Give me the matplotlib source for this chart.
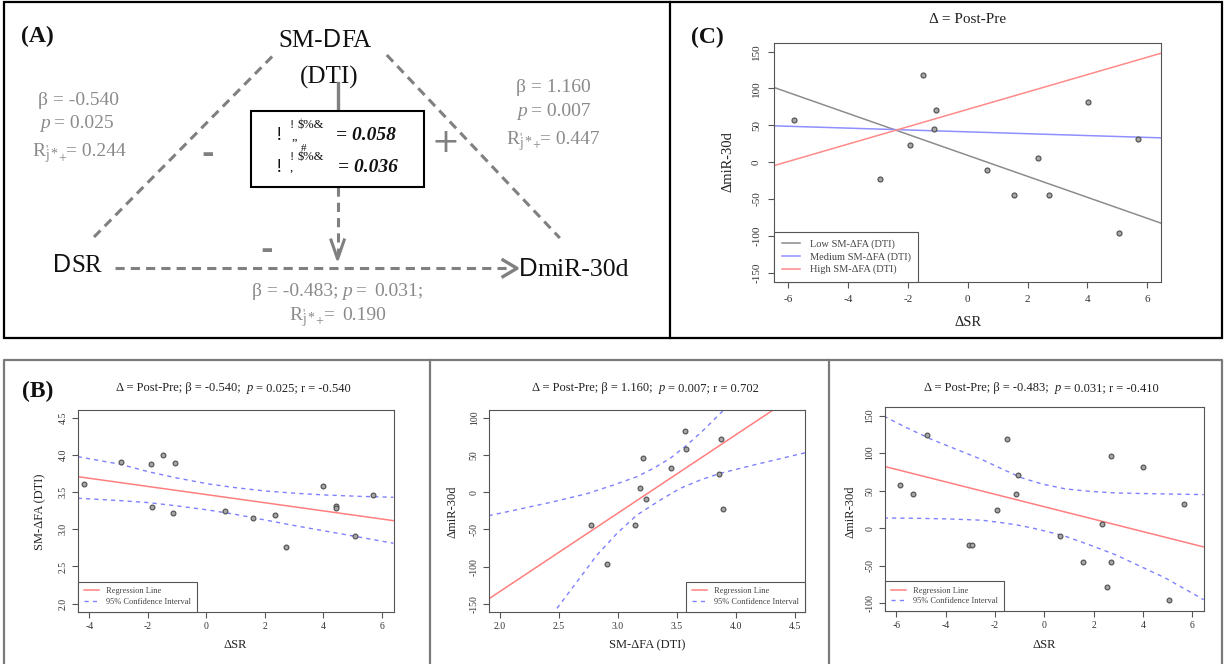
import matplotlib
matplotlib.use("Agg")
import matplotlib.pyplot as plt
from matplotlib.lines import Line2D
from matplotlib.patches import Rectangle

plt.rcParams['font.family'] = ['Liberation Serif', 'DejaVu Serif']

# ---- data ----
# (C) moderation plot: dSR vs dmiR-30d, simple slopes at three SM-dFA levels
c_x = [-5.82, -2.92, -1.49, -1.92, -1.07, -1.13, 0.64, 1.56, 2.35, 2.71, 4.01, 5.07, 5.69]
c_y = [56.9, -22.6, 118.4, 23.5, 70.5, 45.2, -10.4, -44.3, 5.4, -44.3, 81.3, -95.8, 32.1]
c_levels = ["Low SM-ΔFA (DTI)", "Medium SM-ΔFA (DTI)", "High SM-ΔFA (DTI)"]
c_intercepts = [9.25, 41.15, 71.65]
c_slopes = [-14.21, -1.26, 11.77]

# (B1) dSR vs SM-dFA
b1_x = [-4.19, -2.92, -1.91, -1.49, -1.06, -1.85, -1.13, 0.65, 1.58, 2.36, 2.72, 4.00, 4.43, 4.43, 5.08, 5.69]
b1_y = [3.604, 3.909, 3.873, 3.998, 3.886, 3.299, 3.219, 3.241, 3.151, 3.192, 2.766, 3.582, 3.306, 3.292, 2.909, 3.456]
b1_fit = (3.466, -0.0548)
b1_ci_x = [-4.40, -2.95, -1.985, -1.07, 0.065, 0.977, 2.0, 3.03, 4.05, 5.19, 6.39]
b1_ci_up = [3.976, 3.874, 3.774, 3.694, 3.609, 3.560, 3.515, 3.484, 3.461, 3.443, 3.430]
b1_ci_lo = [3.417, 3.385, 3.358, 3.317, 3.259, 3.201, 3.125, 3.048, 2.977, 2.897, 2.812]

# (B2) SM-dFA vs dmiR-30d
b2_x = [2.768, 2.904, 3.144, 3.186, 3.209, 3.234, 3.452, 3.571, 3.579, 3.853, 3.870, 3.893]
b2_y = [-44.0, -95.9, -44.0, 5.8, 45.8, -9.5, 32.2, 81.8, 57.5, 23.8, 71.0, -22.1]
b2_fit = (-343.6, 105.2)
b2_up_x = [1.904, 2.172, 2.455, 2.737, 2.963, 3.161, 3.302, 3.443, 3.585, 3.726, 3.896]
b2_up_y = [-31.5, -22.5, -12.7, -2.0, 9.7, 20.8, 32.1, 45.5, 63.3, 83.5, 110.3]
b2_lo_x = [2.483, 2.653, 2.822, 2.992, 3.161, 3.359, 3.528, 3.698, 3.867, 4.150, 4.587]
b2_lo_y = [-155.8, -120.1, -84.3, -55.2, -30.6, -10.5, 5.2, 16.4, 25.4, 36.5, 53.0]

# (B3) dSR vs dmiR-30d
b3_x = [-5.84, -5.34, -4.76, -3.06, -2.92, -1.91, -1.50, -1.08, -1.13, 0.64, 1.58, 2.35, 2.72, 2.72, 2.56, 4.00, 5.05, 5.69]
b3_y = [57.6, 45.6, 124.6, -22.3, -22.3, 23.9, 119.3, 71.0, 45.6, -9.9, -44.5, 5.7, 96.2, -44.5, -78.7, 82.1, -95.9, 32.3]
b3_fit = (28.7, -8.28)
b3_up_x = [-6.51, -5.57, -4.55, -3.54, -2.52, -1.71, -0.90, -0.09, 0.86, 1.81, 2.89, 4.24, 6.47]
b3_up_y = [149.3, 133.7, 118.1, 104.8, 91.4, 79.0, 67.0, 59.0, 52.4, 49.3, 47.0, 46.1, 44.8]
b3_lo_x = [-6.51, -5.23, -3.88, -2.52, -1.85, -1.17, -0.49, 0.18, 0.86, 1.81, 2.89, 3.90, 4.91, 6.47]
b3_lo_y = [13.7, 13.3, 12.4, 10.7, 8.0, 4.8, 0.4, -4.9, -10.7, -21.8, -35.2, -50.7, -66.2, -95.1]

b_titles = [["Δ = Post-Pre; β = -0.540;", 6, ("p", {"style": "italic"}), 3, "= 0.025; r = -0.540"],
            ["Δ = Post-Pre; β = 1.160;", 6, ("p", {"style": "italic"}), 3, "= 0.007; r = 0.702"],
            ["Δ = Post-Pre; β = -0.483;", 6, ("p", {"style": "italic"}), 3, "= 0.031; r = -0.410"]]

# colours
RED = '#ff7f7f'
BLUE = '#8080ff'
C_COLS = ['#8c8c8c', '#8f8fff', '#ff8a8a']
PT_FACE = '#a6a6a6'
PT_EDGE = '#4d4d4d'
GRAY_TXT = '#8a8a8a'
GRAY_LN = '#808080'

W, H = 1225, 664
fig = plt.figure(figsize=(W / 100, H / 100), dpi=100)
ov = fig.add_axes([0, 0, 1, 1])
ov.set_xlim(0, W)
ov.set_ylim(H, 0)
ov.axis('off')
renderer = fig.canvas.get_renderer()


def put_parts(x, y, parts, ha='left', color='#111111', size=12, **common):
    items = []
    for p in parts:
        if isinstance(p, (int, float)):
            items.append(p)
            continue
        txt, kw = p if isinstance(p, tuple) else (p, {})
        kw = dict(common, **kw)
        dy = kw.pop('dy', 0)
        t = ov.text(0, y + dy, txt, ha='left', va='baseline',
                    color=kw.pop('color', color), fontsize=kw.pop('size', size), **kw)
        items.append(t)
    widths = [it if isinstance(it, (int, float)) else it.get_window_extent(renderer).width
              for it in items]
    x0 = x - sum(widths) / 2 if ha == 'center' else x
    for it, w in zip(items, widths):
        if not isinstance(it, (int, float)):
            it.set_x(x0)
        x0 += w


def px_axes(l, t, r, b):
    return fig.add_axes([l / W, 1 - b / H, (r - l) / W, (b - t) / H])


def style_axes(ax, xlim, ylim, xticks, yticks, xfmt, yfmt, size, tlen, pad):
    ax.set_xlim(xlim)
    ax.set_ylim(ylim)
    ax.set_xticks(xticks)
    ax.set_xticklabels([xfmt.format(v) for v in xticks])
    ax.set_yticks(yticks)
    ax.set_yticklabels([yfmt.format(v) for v in yticks], rotation=90, va='center')
    for s in ax.spines.values():
        s.set_color('#555555')
        s.set_linewidth(0.8)
    ax.tick_params(direction='out', length=tlen, width=0.8, colors='#555555',
                   labelcolor='#333333', labelsize=size, pad=pad)


def add_legend(ax, handles, labels, loc, size):
    leg = ax.legend(handles, labels, loc=loc, fontsize=size, frameon=True, fancybox=False,
                    edgecolor='#555555', framealpha=1, borderaxespad=0, handlelength=1.8,
                    handletextpad=0.9, borderpad=0.7, labelspacing=0.3)
    leg.get_frame().set_linewidth(0.8)
    for t in leg.get_texts():
        t.set_color('#444444')


# ---- frames ----
ov.add_patch(Rectangle((4, 2), 1218, 336, fill=False, ec='black', lw=1.6))
ov.plot([670, 670], [2, 338], color='black', lw=1.6)
ov.plot([4, 4, 1222, 1222], [664, 360, 360, 664], color='#7a7a7a', lw=1.6)
ov.plot([430, 430], [360, 664], color='#7a7a7a', lw=1.6)
ov.plot([829, 829], [360, 664], color='#7a7a7a', lw=1.6)

# ---- panel A: path diagram ----
dash = (0, (3, 2))
ov.plot([94, 275.6], [237, 53], color=GRAY_LN, lw=2.2, ls=dash)
ov.plot([386.8, 559.8], [55, 238], color=GRAY_LN, lw=2.2, ls=dash)
ov.plot([115.4, 508], [268.3, 268.3], color=GRAY_LN, lw=2.2, ls=dash)
ov.plot([503, 517, 503], [260, 268.3, 276.6], color=GRAY_LN, lw=2.4)
ov.plot([337.6, 337.6], [83, 111], color=GRAY_LN, lw=2.4)
ov.plot([337.6, 337.6], [187, 256], color=GRAY_LN, lw=2.2, ls=dash)
ov.plot([331, 337.6, 344.2], [240, 259, 240], color=GRAY_LN, lw=2.2)
ov.add_patch(Rectangle((251, 111), 173, 76, fc='white', ec='black', lw=1.5, zorder=3))

sans = {'family': ['Liberation Sans', 'DejaVu Sans']}
put_parts(21.4, 41.7, ["(A)"], size=17, weight='bold')
put_parts(325, 46.7, ["SM-", ("D", sans), "FA"], ha='center', size=18)
put_parts(329.5, 84, ["(DTI)"], ha='center', size=18)
put_parts(53.4, 272, [("D", sans), "SR"], size=18)
put_parts(519, 276, [("D", sans), "miR-30d"], size=18.5)

rsub = [("'", {'size': 9, 'dy': -3}), -2, ("j", {'size': 10, 'dy': 3}), 1,
        ("*", {'size': 10, 'dy': 2}), 1, ("+", {'size': 10, 'dy': 6})]
put_parts(79, 105, ["β = -0.540"], ha='center', size=14, color=GRAY_TXT)
put_parts(77, 128.5, [("p", {'style': 'italic'}), 3.5, "= 0.025"], ha='center', size=14, color=GRAY_TXT)
put_parts(79, 156, ["R"] + rsub + ["= 0.244"], ha='center', size=14, color=GRAY_TXT)
put_parts(553, 92.5, ["β = 1.160"], ha='center', size=14, color=GRAY_TXT)
put_parts(554, 116.5, [("p", {'style': 'italic'}), 3.5, "= 0.007"], ha='center', size=14, color=GRAY_TXT)
put_parts(553, 143.5, ["R"] + rsub + ["= 0.447"], ha='center', size=14, color=GRAY_TXT)
put_parts(337.6, 295.5, ["β = -0.483;", 4, ("p", {'style': 'italic'}), 3.5, "=", 8, "0.031;"],
          ha='center', size=14, color=GRAY_TXT)
put_parts(337.6, 319.5, ["R"] + rsub + ["=", 8, "0.190"], ha='center', size=14, color=GRAY_TXT)

sign_kw = dict(ha='center', va='center', color=GRAY_LN, family=['DejaVu Sans'])
ov.text(208, 155, "-", fontsize=22, weight='bold', **sign_kw)
ov.text(267, 251, "-", fontsize=22, weight='bold', **sign_kw)
ov.text(445, 142, "+", fontsize=24, **sign_kw)

box_kw = dict(va='baseline', ha='left', color='#111111', zorder=4)
ov.text(276, 140, "!", fontsize=14, **box_kw)
ov.text(289.5, 128, "!", fontsize=9, **box_kw)
ov.text(298, 128, "$%&", fontsize=9, **box_kw)
ov.text(291, 140, "„", fontsize=9, **box_kw)
ov.text(335.5, 140, "= 0.058", fontsize=14, weight='bold', style='italic', **box_kw)
ov.text(276, 172, "!", fontsize=14, **box_kw)
ov.text(289.5, 160, "!", fontsize=9, **box_kw)
ov.text(301, 151, "#", fontsize=8, **box_kw)
ov.text(298, 160, "$%&", fontsize=9, **box_kw)
ov.text(290, 171, ",", fontsize=9, **box_kw)
ov.text(337.6, 172, "= 0.036", fontsize=14, weight='bold', style='italic', **box_kw)

# ---- panel C ----
axc = px_axes(774.3, 42.7, 1161.2, 281.7)
style_axes(axc, (-6.47, 6.47), (-162, 162), [-6, -4, -2, 0, 2, 4, 6],
           [-150, -100, -50, 0, 50, 100, 150], '{:g}', '{:g}', 8, 4.5, 5)
axc.scatter(c_x, c_y, s=13, fc=PT_FACE, ec=PT_EDGE, lw=0.8, zorder=3)
c_handles = []
for b0, m, col in zip(c_intercepts, c_slopes, C_COLS):
    axc.axline((0, b0), slope=m, color=col, lw=1.1)
    c_handles.append(Line2D([], [], color=col, lw=1.1))
add_legend(axc, c_handles, c_levels, 'lower left', 7.5)
put_parts(707, 42.7, ["(C)"], ha='center', size=17, weight='bold')
put_parts(967.6, 23, ["Δ = Post-Pre"], ha='center', size=11, color='#222222')
ov.text(967.6, 322.7, "ΔSR", ha='center', va='center', fontsize=10.5, color='#222222')
ov.text(728.4, 162, "ΔmiR-30d", ha='center', va='center', rotation=90, fontsize=10.5, color='#222222')

# ---- panel B ----
reg_h = [Line2D([], [], color=RED, lw=1.1), Line2D([], [], color=BLUE, lw=1, ls=(0, (3, 3)))]
reg_l = ["Regression Line", "95% Confidence Interval"]

ax1 = px_axes(77.7, 410, 393.7, 611.7)
style_axes(ax1, (-4.40, 6.40), (1.892, 4.603), [-4, -2, 0, 2, 4, 6],
           [2.0, 2.5, 3.0, 3.5, 4.0, 4.5], '{:g}', '{:.1f}', 7, 4, 3.5)
ax1.scatter(b1_x, b1_y, s=12, fc=PT_FACE, ec=PT_EDGE, lw=0.8, zorder=3)
ax1.axline((0, b1_fit[0]), slope=b1_fit[1], color=RED, lw=1.1)
ax1.plot(b1_ci_x, b1_ci_up, color=BLUE, lw=1, ls=(0, (3, 3)))
ax1.plot(b1_ci_x, b1_ci_lo, color=BLUE, lw=1, ls=(0, (3, 3)))
add_legend(ax1, reg_h, reg_l, 'lower left', 6)

ax2 = px_axes(489.3, 410, 805, 611.7)
style_axes(ax2, (1.910, 4.585), (-160.3, 110.3), [2.0, 2.5, 3.0, 3.5, 4.0, 4.5],
           [-150, -100, -50, 0, 50, 100], '{:.1f}', '{:g}', 7, 4, 3.5)
ax2.scatter(b2_x, b2_y, s=12, fc=PT_FACE, ec=PT_EDGE, lw=0.8, zorder=3)
ax2.axline((0, b2_fit[0]), slope=b2_fit[1], color=RED, lw=1.1)
ax2.plot(b2_up_x, b2_up_y, color=BLUE, lw=1, ls=(0, (3, 3)))
ax2.plot(b2_lo_x, b2_lo_y, color=BLUE, lw=1, ls=(0, (3, 3)))
add_legend(ax2, reg_h, reg_l, 'lower right', 6)

ax3 = px_axes(884.7, 407, 1203.7, 611)
style_axes(ax3, (-6.47, 6.47), (-110.2, 161.5), [-6, -4, -2, 0, 2, 4, 6],
           [-100, -50, 0, 50, 100, 150], '{:g}', '{:g}', 7, 4, 3.5)
ax3.scatter(b3_x, b3_y, s=12, fc=PT_FACE, ec=PT_EDGE, lw=0.8, zorder=3)
ax3.axline((0, b3_fit[0]), slope=b3_fit[1], color=RED, lw=1.1)
ax3.plot(b3_up_x, b3_up_y, color=BLUE, lw=1, ls=(0, (3, 3)))
ax3.plot(b3_lo_x, b3_lo_y, color=BLUE, lw=1, ls=(0, (3, 3)))
add_legend(ax3, reg_h, reg_l, 'lower left', 6)

put_parts(21.7, 396.7, ["(B)"], size=17, weight='bold')
for cx, parts in zip([233, 645, 1041], b_titles):
    put_parts(cx, 391.5, parts, ha='center', size=9, color='#222222')
for cx, lab in zip([235, 646.7, 1044], ["ΔSR", "SM-ΔFA (DTI)", "ΔSR"]):
    ov.text(cx, 645, lab, ha='center', va='center', fontsize=9, color='#222222')
for cx, lab in zip([40, 452.7, 850.7], ["SM-ΔFA (DTI)", "ΔmiR-30d", "ΔmiR-30d"]):
    ov.text(cx, 512, lab, ha='center', va='center', rotation=90, fontsize=9, color='#222222')

fig.savefig("out.png", dpi=100)
